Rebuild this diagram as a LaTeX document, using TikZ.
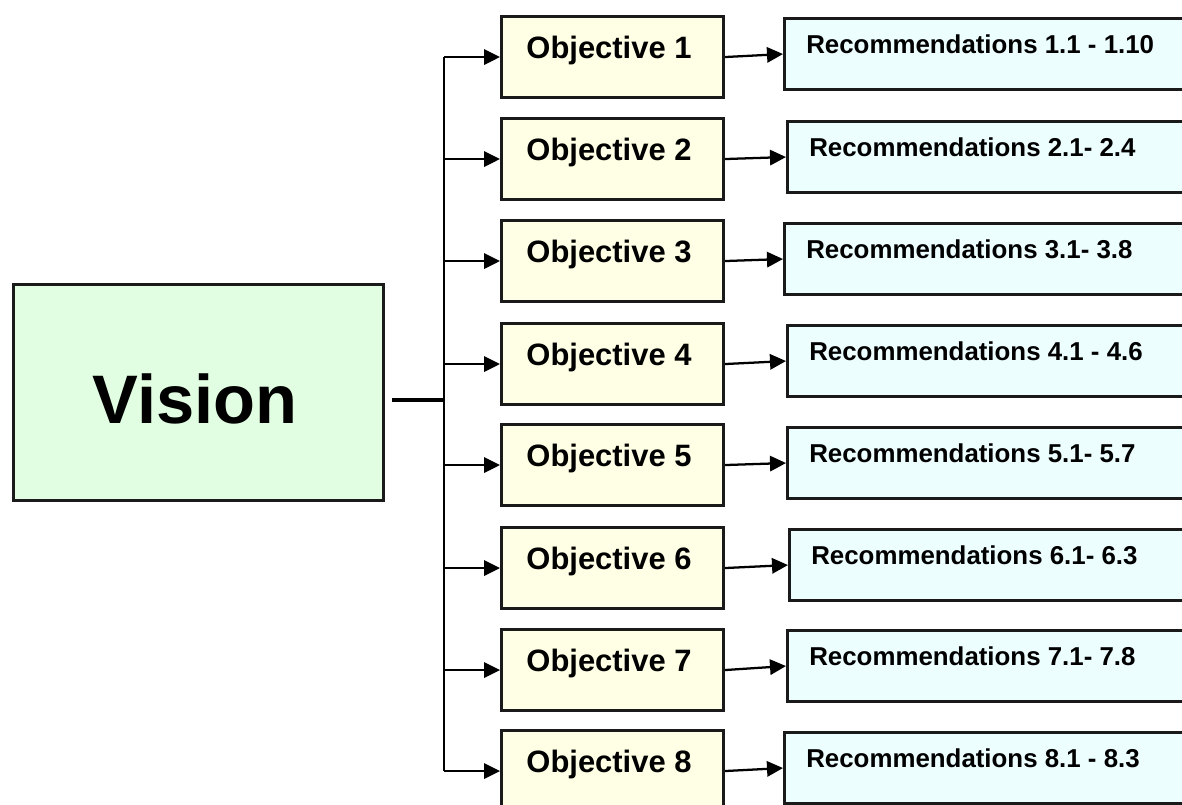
\documentclass[tikz,border=0pt]{standalone}
\usepackage{fontspec}
\setmainfont{Liberation Sans}
\usetikzlibrary{arrows.meta}
\definecolor{visfill}{HTML}{E2FEE2}
\definecolor{objfill}{HTML}{FFFFE6}
\definecolor{recfill}{HTML}{EDFEFF}
\definecolor{edge}{HTML}{1A1A1A}
\begin{document}
\begin{tikzpicture}[x=0.75pt,y=-0.75pt,
  vbox/.style={draw=edge, line width=2.3pt, fill=visfill, minimum width=277.5pt, minimum height=162pt, inner sep=0pt, anchor=north west},
  obox/.style={draw=edge, line width=2.3pt, fill=objfill, minimum width=166.5pt, minimum height=60.75pt, inner sep=0pt, anchor=north west},
  rbox/.style={draw=edge, line width=2.3pt, fill=recfill, minimum width=315pt, minimum height=53.25pt, inner sep=0pt, anchor=north west},
  vtext/.style={font=\bfseries\fontsize{51.5}{60}\selectfont, anchor=base, inner sep=0pt},
  otext/.style={font=\bfseries\fontsize{23.2}{27}\selectfont, anchor=base, inner sep=0pt},
  rtext/.style={font=\bfseries\fontsize{19.4}{23}\selectfont, anchor=base west, inner sep=0pt},
  link/.style={line width=1.7pt, -{Triangle[length=12pt,width=11.5pt]}},
  trunkline/.style={line width=1.8pt},
  stemline/.style={line width=2.4pt}]
\clip (0,0) rectangle (1182,804);
\fill[white] (0,0) rectangle (1182,804);
\node[vbox] (vision) at (12,283) {};
\node[vtext] (visiontext) at (195,423) {Vision};
\coordinate (vs) at (392,400);
\coordinate (tk) at (444,400);
\foreach \i/\ot/\rx/\rt/\rl in {
  1/15/783/17/{1.1 - 1.10},
  2/117/786/120/{2.1- 2.4},
  3/219/783/222/{3.1- 3.8},
  4/322/786/324/{4.1 - 4.6},
  5/423/786/426/{5.1- 5.7},
  6/526/788/528/{6.1- 6.3},
  7/628/786/629/{7.1- 7.8},
  8/729/783/731/{8.1 - 8.3}}{
  \node[obox] (o\i) at (500,\ot) {};
  \node[otext] (ot\i) at (609,\ot+43) {Objective \i};
  \node[rbox] (r\i) at (\rx,\rt) {};
  \node[rtext] (rt\i) at (\rx+23,\rt+36.5) {Recommendations \rl};
  \draw[link] (tk |- o\i.west) -- (o\i.west);
  \draw[link] (o\i.east) -- (r\i.west);
}
\draw[trunkline] (tk |- o1.west) -- (tk |- o8.west);
\draw[stemline] (vs) -- (tk);
\end{tikzpicture}
\end{document}
